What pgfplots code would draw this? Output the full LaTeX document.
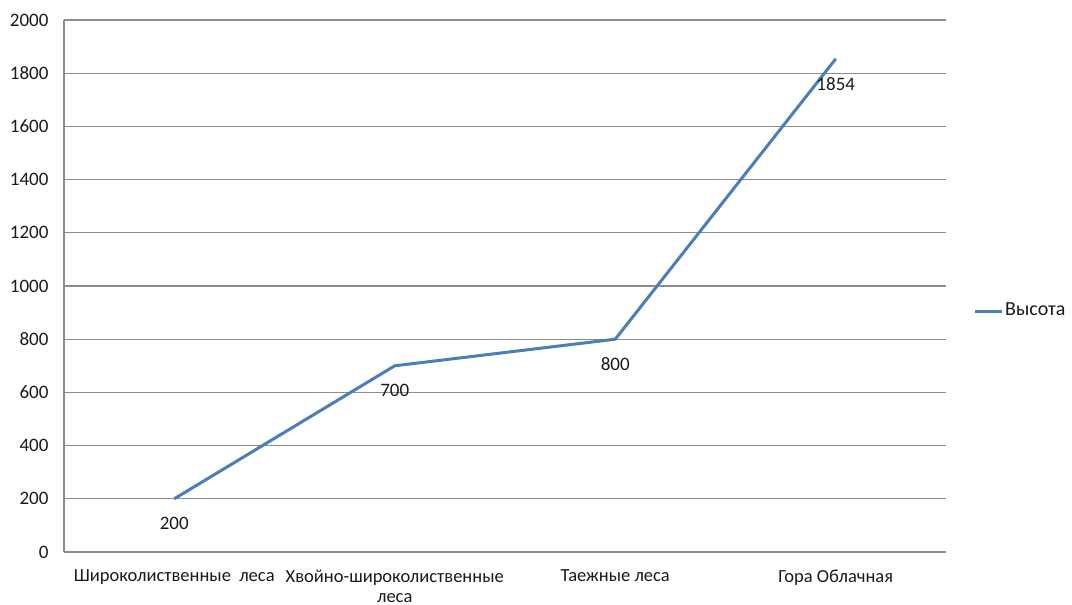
\documentclass[border=0pt]{standalone}
\usepackage{fontspec}
\setmainfont{Carlito}
\usepackage{pgfplots}
\pgfplotsset{compat=1.18}

\definecolor{serieblue}{HTML}{4A7EBB}
\definecolor{gridgray}{HTML}{8C8C8C}
\definecolor{labeltext}{HTML}{1A1A1A}

\begin{document}
\fontsize{19bp}{22bp}\selectfont
\begin{tikzpicture}
\path[use as bounding box] (-64bp,-53bp) rectangle (1008bp,552bp);
\begin{axis}[
  at={(0,0)}, anchor=south west,
  scale only axis,
  width=882bp, height=532bp,
  xmin=-0.5, xmax=3.5,
  ymin=0, ymax=2000,
  ytick={0,200,...,2000},
  xtick={0,1,2,3},
  xticklabels={Широколиственные\ \ леса, Хвойно-широколиственные\\леса, Таежные леса, Гора Облачная},
  xticklabel style={align=center, anchor=north, yshift=-11bp, labeltext,
    font=\fontsize{18.5bp}{20bp}\selectfont},
  yticklabel style={font=\fontsize{19bp}{22bp}\selectfont, xshift=-9bp, labeltext},
  /pgf/number format/assume math mode=true,
  /pgf/number format/1000 sep={},
  major tick length=0pt,
  ymajorgrids,
  grid style={gridgray, line width=1.2bp},
  axis x line*=bottom,
  axis y line*=left,
  axis line style={gridgray, line width=1.2bp, -},
  legend style={at={(1.0306,0.453)}, anchor=west, draw=none, fill=none,
    inner sep=0pt, text=labeltext, font=\fontsize{20bp}{22bp}\selectfont},
  legend cell align=left,
  legend image code/.code={\draw[#1] (0bp,0bp) -- (27bp,0bp);},
  nodes near coords,
  every node near coord/.append style={anchor=center, yshift=-25bp, labeltext,
    font=\fontsize{19bp}{22bp}\selectfont},
  clip=false,
]
\addplot[serieblue, line width=3bp, mark=none] coordinates {
  (0,200) (1,700) (2,800) (3,1854)
};
\addlegendentry{Высота}
\end{axis}
\end{tikzpicture}
\end{document}
